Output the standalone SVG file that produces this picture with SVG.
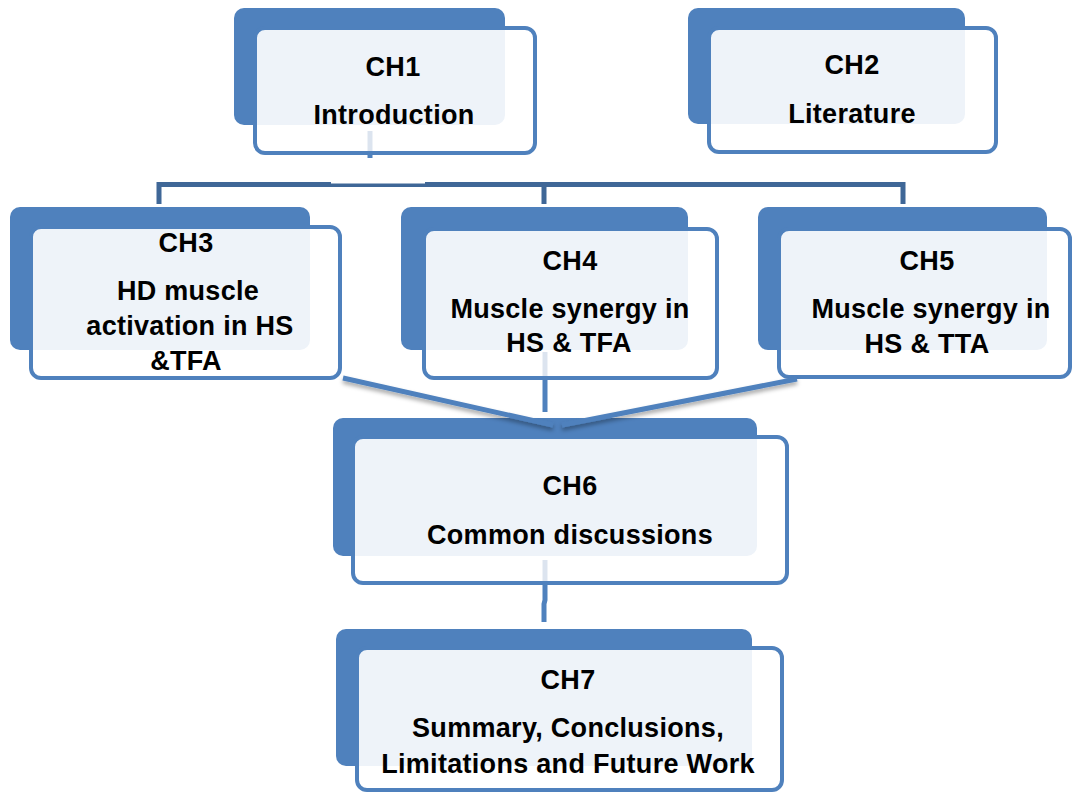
<svg xmlns="http://www.w3.org/2000/svg" width="1072" height="793" viewBox="0 0 1072 793">
<defs>
<style>
.back{fill:#4F81BD}
.front{fill:#FFFFFF;fill-opacity:0.9;stroke:#4F81BD;stroke-width:4}
.t{font-family:"Liberation Sans",Arial,sans-serif;font-weight:bold;font-size:27px;letter-spacing:0.3px;fill:#000;text-anchor:middle}
.conn{stroke:#4F81BD;stroke-width:5;fill:none}
.bar{stroke:#3F6797;stroke-width:5;fill:none}
.ghost{stroke:#DCE4EF;stroke-width:5;fill:none}
</style>
<filter id="sh" x="-10%" y="-100%" width="120%" height="400%">
<feDropShadow dx="0" dy="3" stdDeviation="2" flood-color="#000" flood-opacity="0.35"/>
</filter>
</defs>
<rect width="1072" height="793" fill="#FFFFFF"/>
<g id="ch1">
<rect class="back" x="234" y="8" width="271" height="117" rx="10"/>
<rect class="front" x="255" y="28" width="280" height="125" rx="10"/>
<text class="t" x="393" y="76">CH1</text>
<text class="t" x="394" y="124">Introduction</text>
</g>
<g id="ch2">
<rect class="back" x="688" y="8" width="277" height="116" rx="10"/>
<rect class="front" x="709" y="28" width="287" height="124" rx="10"/>
<text class="t" x="852" y="74">CH2</text>
<text class="t" x="852" y="123">Literature</text>
</g>
<g id="ch3">
<rect class="back" x="10" y="207" width="300" height="143" rx="10"/>
<rect class="front" x="31" y="227" width="309" height="151" rx="10"/>
<text class="t" x="186" y="252">CH3</text>
<text class="t" x="188" y="300">HD muscle</text>
<text class="t" x="190" y="335">activation in HS</text>
<text class="t" x="186" y="370">&amp;TFA</text>
</g>
<g id="ch4">
<rect class="back" x="401" y="207" width="287" height="143" rx="10"/>
<rect class="front" x="424" y="229" width="293" height="149" rx="10"/>
<text class="t" x="570" y="270">CH4</text>
<text class="t" x="570" y="318">Muscle synergy in</text>
<text class="t" x="569" y="352">HS &amp; TFA</text>
</g>
<g id="ch5">
<rect class="back" x="758" y="207" width="289" height="143" rx="10"/>
<rect class="front" x="779" y="229" width="291" height="148" rx="10"/>
<text class="t" x="927" y="270">CH5</text>
<text class="t" x="931" y="318">Muscle synergy in</text>
<text class="t" x="927" y="353">HS &amp; TTA</text>
</g>
<g id="ch6">
<rect class="back" x="333" y="418" width="424" height="138" rx="10"/>
<rect class="front" x="353" y="437" width="434" height="146" rx="10"/>
<text class="t" x="570" y="495">CH6</text>
<text class="t" x="570" y="544">Common discussions</text>
</g>
<g id="ch7">
<rect class="back" x="336" y="629" width="416" height="137" rx="10"/>
<rect class="front" x="357" y="648" width="425" height="142" rx="10"/>
<text class="t" x="568" y="689">CH7</text>
<text class="t" x="568" y="737">Summary, Conclusions,</text>
<text class="t" x="568" y="773">Limitations and Future Work</text>
</g>
<g id="connectors">
<path class="conn" filter="url(#sh)" d="M503,85 L721,85"/>
<path class="ghost" d="M370,131 L370,151"/>
<path class="conn" d="M370,152 L370,158"/>
<path class="bar" d="M159,204 L159,184.5 L903,184.5 L903,204 M544,184.5 L544,204"/>
<path d="M331,182.5 L425,182.5" stroke="#FFFFFF" stroke-width="2"/>
<path class="ghost" d="M545,352 L545,376"/>
<path class="conn" d="M545,380 L545,412"/>
<path class="conn" filter="url(#sh)" d="M343,378 L553,425"/>
<path class="conn" filter="url(#sh)" d="M797,379 L562,425"/>
<path class="ghost" d="M545,560 L545,581"/>
<path class="conn" d="M545,585 L545,600 L544,604 L544,622"/>
</g>
</svg>
